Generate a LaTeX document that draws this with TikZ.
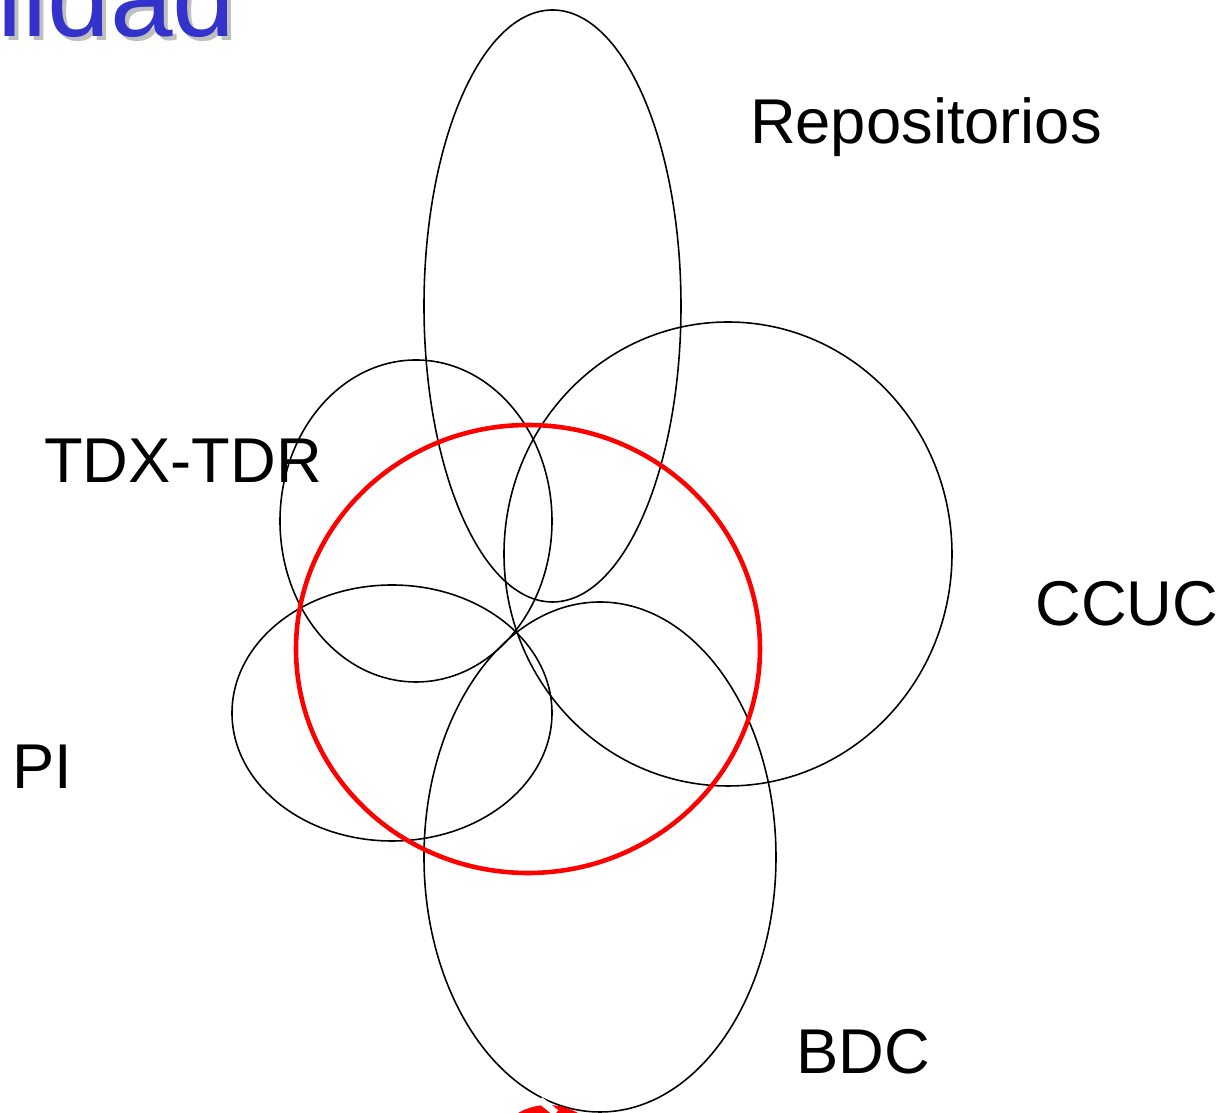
\documentclass[tikz,border=0pt]{standalone}
\usepackage{fontspec}
\setmainfont{Liberation Sans}
\begin{document}
\begin{tikzpicture}[x=0.01cm,y=-0.01cm,
		set/.style={draw,ellipse,line width=1.2pt,black},
		lbl/.style={font=\fontsize{18}{20}\selectfont,inner sep=0pt}]
		\useasboundingbox (0,0) rectangle (1229,1113);
		\clip (0,0) rectangle (1229,1113);
		% title fragment
		\node (titleS)[anchor=base east,text=gray!50,font=\fontsize{32}{34}\selectfont,inner sep=0pt] at (240,41) {lidad};
		\node (title) [anchor=base east,text={rgb,255:red,51;green,51;blue,204},font=\fontsize{32}{34}\selectfont,inner sep=0pt] at (236,37) {lidad};

		\draw [line width=0.45pt] (552.5,306) ellipse [x radius=128.5, y radius=296];
		\draw [line width=0.45pt] (416,521) ellipse [x radius=136, y radius=161];
		\draw [line width=0.45pt] (728,554) ellipse [x radius=224, y radius=232];
		\draw [line width=0.45pt] (392,713) ellipse [x radius=160, y radius=128];
		\draw [line width=0.45pt] (600,857) ellipse [x radius=176, y radius=255];
		\draw [red,line width=1.3pt] (528,649) ellipse [x radius=232, y radius=224];

		% cut red fragment
		\fill [red] (548,1165) circle [radius=60];
		\draw [white,line width=2pt] (540,1100) -- (556,1113);

		\node (repo)[lbl] at (926,127) {Repositorios};
		\node (tdx) [lbl] at (183,461) {TDX-TDR};
		\node (ccuc)[lbl] at (1127,604) {CCUC};
		\node (pi)  [lbl] at (42,767) {PI};
		\node (bdc) [lbl] at (863,1052) {BDC};
	\end{tikzpicture}
\end{document}
